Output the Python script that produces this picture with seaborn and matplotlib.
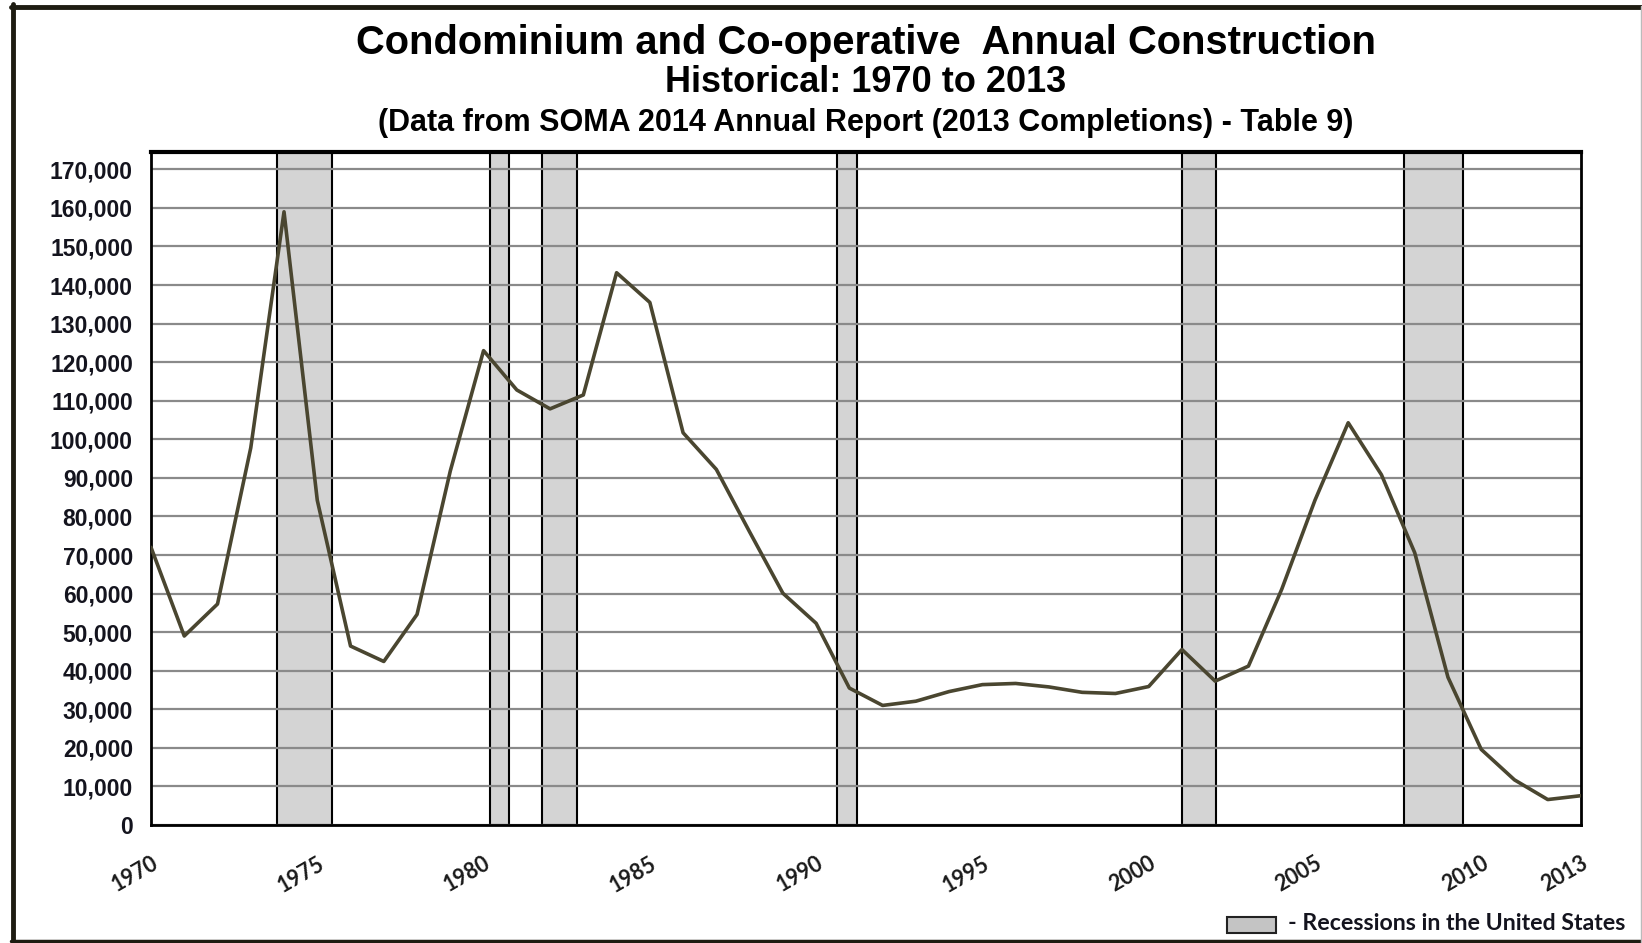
import pandas as pd
import matplotlib.pyplot as plt
import seaborn as sns
from matplotlib.patches import Rectangle
from matplotlib.lines import Line2D
from matplotlib.ticker import FuncFormatter

# annual condo / co-op construction
years = list(range(1970, 2014))
units = [72000, 49000, 57300, 97800, 159000, 84200, 46400, 42400, 54600, 91800,
         123000, 112800, 107900, 111500, 143200, 135500, 101700, 92200, 76000, 60100,
         52300, 35500, 31000, 32100, 34600, 36400, 36700, 35800, 34400, 34100,
         35900, 45500, 37300, 41200, 61100, 84200, 104300, 90800, 70600, 38300,
         19600, 11700, 6600, 7600]

# recession bands (start, end) as drawn
rec_start = [1973.8, 1980.2, 1981.75, 1990.62, 2001.0, 2007.68]
rec_end = [1975.45, 1980.77, 1982.8, 1991.22, 2002.02, 2009.45]

label_years = [1970, 1975, 1980, 1985, 1990, 1995, 2000, 2005, 2010, 2013]
y_ticks = list(range(0, 170001, 10000))

df = pd.DataFrame({"year": years, "units": units})

sns.set_style("white")
plt.rcParams["font.family"] = ["Liberation Sans", "DejaVu Sans"]

fig = plt.figure(figsize=(16.42, 9.43), dpi=100)
ax = fig.add_axes([151 / 1642, 1 - 825 / 943, 1430 / 1642, 673 / 943])

for s, e in zip(rec_start, rec_end):
    ax.axvspan(s, e, facecolor="#d4d4d4", edgecolor="black", linewidth=1.5, zorder=0)

sns.lineplot(data=df, x="year", y="units", ax=ax, color="#4a4630", linewidth=2.6, zorder=3)

ax.set_xlim(1970, 2013)
ax.set_ylim(0, 174500)
ax.set_axisbelow(True)
ax.set_yticks(y_ticks)
ax.yaxis.set_major_formatter(FuncFormatter(lambda v, p: f"{int(v):,}"))
ax.grid(axis="y", color="#8a8a8a", linewidth=1.6)
ax.grid(axis="x", visible=False)

ax.set_xticks(years)
ax.set_xticklabels([str(y) if y in label_years else "" for y in years],
                   rotation=30, ha="right", rotation_mode="anchor",
                   fontsize=15.5, fontweight="bold", family=["Lato", "DejaVu Sans"],
                   color="#1a1a1a")
ax.tick_params(axis="x", direction="out", length=6, width=1, color="black", pad=14)
ax.tick_params(axis="y", direction="out", length=6, width=1, color="black", pad=7,
               labelsize=16.5, labelcolor="#14141e")
for t in ax.get_yticklabels():
    t.set_fontweight("bold")

ax.set_xlabel("")
ax.set_ylabel("")
for side in ["left", "right", "bottom"]:
    ax.spines[side].set_color("black")
    ax.spines[side].set_linewidth(2)
ax.spines["top"].set_color("black")
ax.spines["top"].set_linewidth(3)

# titles
cx = (151 + 1581) / 2 / 1642
fig.text(cx, 1 - 43 / 943, "Condominium and Co-operative  Annual Construction",
         ha="center", va="center", fontsize=28.7, fontweight="bold", color="black")
fig.text(cx, 1 - 83 / 943, "Historical: 1970 to 2013",
         ha="center", va="center", fontsize=26, fontweight="bold", color="black")
fig.text(cx, 1 - 123 / 943, "(Data from SOMA 2014 Annual Report (2013 Completions) - Table 9)",
         ha="center", va="center", fontsize=22, fontweight="bold", color="black")

# legend for recession bands
fig.add_artist(Rectangle((1227 / 1642, 1 - 933 / 943), 49 / 1642, 16 / 943,
                         transform=fig.transFigure, facecolor="#c4c4c4",
                         edgecolor="#222222", linewidth=1.5))
fig.text(1288 / 1642, 1 - 924 / 943, "- Recessions in the United States",
         ha="left", va="center", fontsize=16.7, fontweight="bold",
         family=["Lato", "DejaVu Sans"], color="#14141e")

# outer frame
frame = "#1e1c12"
fig.add_artist(Line2D([12.5 / 1642, 12.5 / 1642], [0, 1 - 4 / 943], transform=fig.transFigure,
                      color=frame, linewidth=3.5))
fig.add_artist(Line2D([11 / 1642, 1], [1 - 6.5 / 943, 1 - 6.5 / 943], transform=fig.transFigure,
                      color=frame, linewidth=3.5))
fig.add_artist(Line2D([11 / 1642, 1], [1 - 941 / 943, 1 - 941 / 943], transform=fig.transFigure,
                      color=frame, linewidth=2.5))
fig.add_artist(Line2D([1641 / 1642, 1641 / 1642], [0, 1 - 6 / 943], transform=fig.transFigure,
                      color="#bbbbbb", linewidth=1))

fig.savefig("out.png", dpi=100)
